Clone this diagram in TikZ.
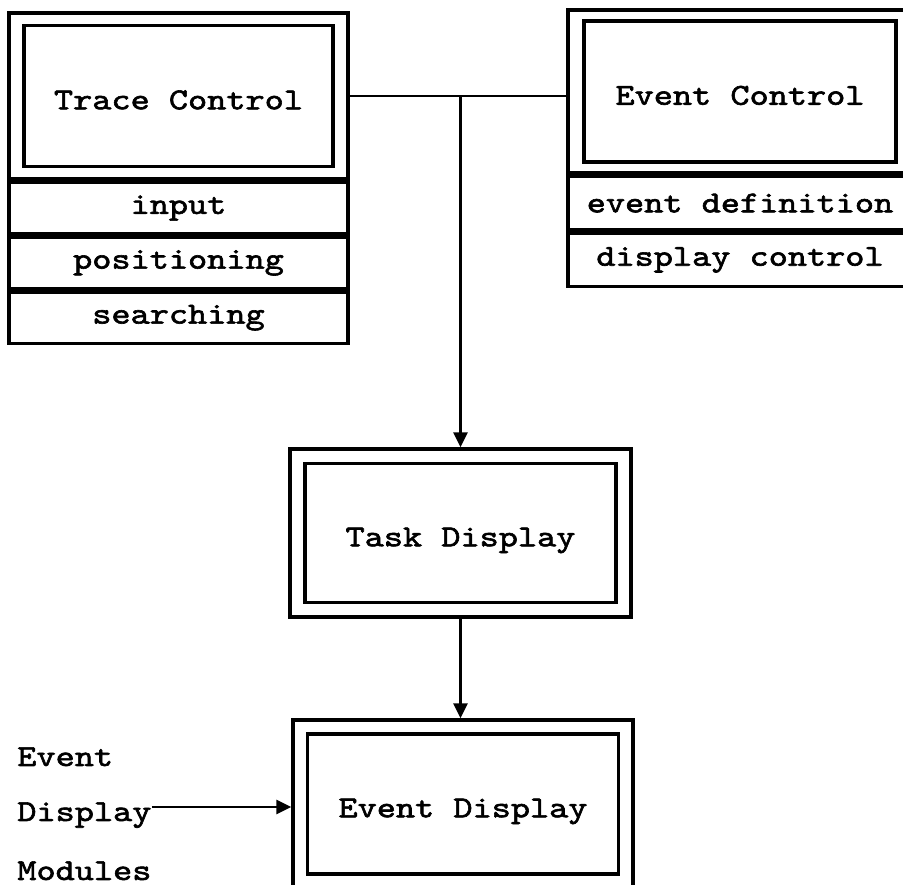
\documentclass[tikz,border=0pt]{standalone}
\usepackage{fontspec}
\usetikzlibrary{arrows.meta}
\newfontfamily\boxfont{lmmono10-regular}[Extension=.otf,FakeStretch=1.2,FakeBold=2]

\begin{document}
\begin{tikzpicture}[
    frame/.style={draw,line width=1.9pt,inner sep=0pt},
    panel/.style={draw,line width=1.9pt,inner sep=0pt,font=\boxfont\fontsize{17.3pt}{20pt}\selectfont},
    title/.style={panel,text height=15.1pt,text depth=0pt},
    row/.style={panel,anchor=north},
    link/.style={line width=1.6pt},
    arrow/.style={link,-{Triangle[length=0.3cm,width=0.28cm]}},
    label/.style={inner sep=0pt,anchor=base west,font=\boxfont\fontsize{17.3pt}{20pt}\selectfont}
]
    \useasboundingbox (0,0) rectangle (18.06,17.7);
    \clip (0,0) rectangle (18.06,17.7);

    % Trace control with its sub-modules
    \node[frame,minimum width=6.78cm,minimum height=3.32cm] (trace) at (3.57,15.78) {};
    \node[title,minimum width=6.18cm,minimum height=2.82cm] (tracename) at (trace) {Trace Control};
    \node[row,minimum width=6.78cm,minimum height=1.03cm] (input) at (trace.south) {input};
    \node[row,minimum width=6.78cm,minimum height=1.03cm] (positioning) at (input.south) {positioning};
    \node[row,minimum width=6.78cm,minimum height=1.03cm] (searching) at (positioning.south) {searching};

    % Event control (runs off the right edge)
    \node[frame,minimum width=6.88cm,minimum height=3.26cm] (evctl) at (14.8,15.87) {};
    \node[title,minimum width=6.24cm,minimum height=2.82cm] (evctlname) at (evctl) {Event Control};
    \node[row,minimum width=6.88cm,minimum height=1.07cm] (evdef) at (evctl.south) {event definition};
    \node[row,minimum width=6.88cm,minimum height=1.07cm] (dispctl) at (evdef.south) {display control};

    % Task display
    \node[frame,minimum width=6.82cm,minimum height=3.36cm] (task) at (9.21,7.04) {};
    \node[title,minimum width=6.22cm,minimum height=2.78cm] (taskname) at (task) {Task Display};

    % Event display
    \node[frame,minimum width=6.8cm,minimum height=3.36cm] (evdisp) at (9.26,1.62) {};
    \node[title,minimum width=6.22cm,minimum height=2.8cm] (evdispname) at (evdisp) {Event Display};

    % Display modules feeding in from the left
    \node[label] (modtop) at (0.34,2.38) {Event};
    \node[label] (modmid) at (0.34,1.28) {Display};
    \node[label] (modbot) at (0.34,0.1) {Modules};

    % Connections
    \coordinate (split) at (trace.east -| task.north);
    \draw[link] (trace.east) -- (trace.east -| evctl.west);
    \draw[arrow] (split) -- (task.north);
    \draw[arrow] (task.south) -- (task.south |- evdisp.north);
    \coordinate (modout) at ([yshift=0.28cm]modmid.base east);
    \draw[arrow] (modout) -- (modout -| evdisp.west);
\end{tikzpicture}
\end{document}
